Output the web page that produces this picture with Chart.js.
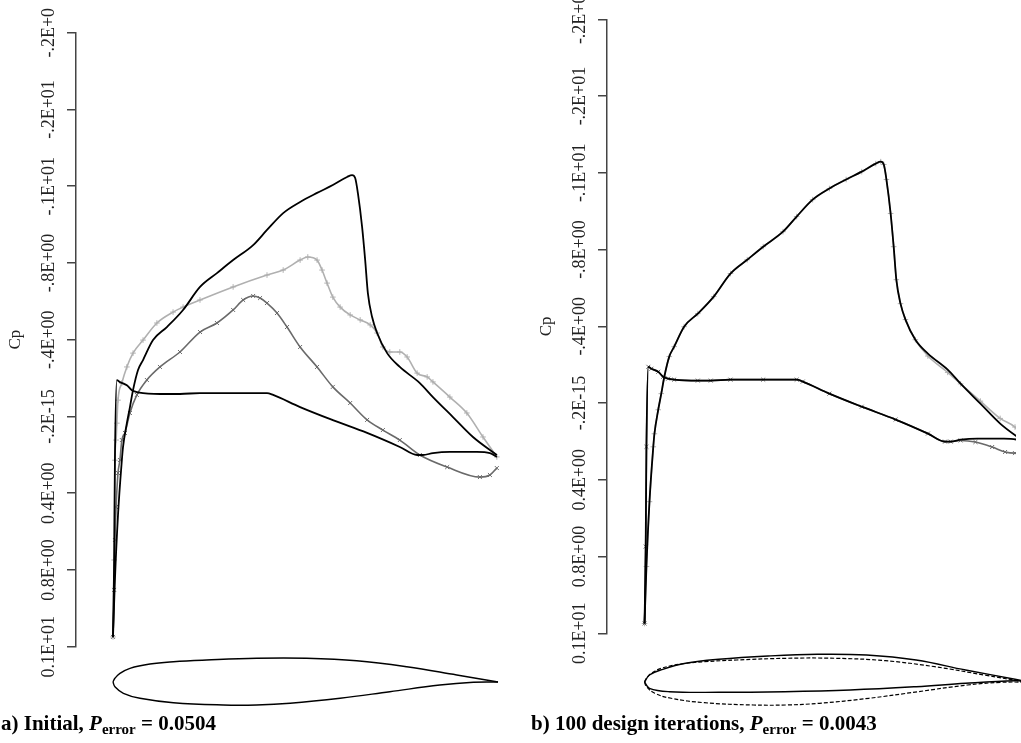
<!DOCTYPE html>
<html>
<head>
<meta charset="utf-8">
<title>Cp distributions</title>
<script src="https://cdn.jsdelivr.net/npm/chart.js@4.4.1/dist/chart.umd.min.js"></script>
<style>
  html, body { margin: 0; padding: 0; background: #fff; }
  body { width: 1021px; height: 743px; position: relative; overflow: hidden; font-family: "Liberation Serif", "Times New Roman", serif; }
  canvas { position: absolute; top: 0; }
  #chartA { left: 0; }
  #chartB { left: 531px; }
  .caption { position: absolute; top: 711px; font-weight: bold; font-size: 21px; white-space: nowrap; color: #000; }
  .caption sub { font-size: 15px; vertical-align: -4px; line-height: 0; }
</style>
</head>
<body>
<canvas id="chartA" width="515" height="743"></canvas>
<canvas id="chartB" width="490" height="743"></canvas>
<div class="caption" style="left:1px">a) Initial, <i>P</i><sub>error</sub> = 0.0504</div>
<div class="caption" style="left:531px">b) 100 design iterations, <i>P</i><sub>error</sub> = 0.0043</div>
<script>
// Cp axis (reversed, negative up)
const yTickValues = [-2.0, -1.6, -1.2, -0.8, -0.4, 0, 0.4, 0.8, 1.2];
const yTickLabels = ["-.2E+0", "-.2E+01", "-.1E+01", "-.8E+00", "-.4E+00", "-.2E-15", "0.4E+00", "0.8E+00", "0.1E+01"];

// target Cp (solid line, same in both panels)
const targetUpperX  = [0, 0.005, 0.013, 0.023, 0.026, 0.036, 0.044, 0.052, 0.065, 0.078, 0.104, 0.140, 0.182, 0.226, 0.270, 0.312, 0.364, 0.400, 0.442, 0.486, 0.530, 0.571, 0.608, 0.621, 0.629, 0.636, 0.647, 0.655, 0.662, 0.673, 0.686, 0.712, 0.745, 0.797, 0.831, 0.883, 0.935, 0.997];
const targetUpperCp = [1.149, 0.852, 0.514, 0.228, 0.160, 0.035, -0.049, -0.137, -0.242, -0.294, -0.398, -0.466, -0.555, -0.675, -0.747, -0.815, -0.893, -0.972, -1.060, -1.118, -1.165, -1.206, -1.248, -1.258, -1.243, -1.165, -0.988, -0.815, -0.643, -0.518, -0.435, -0.330, -0.258, -0.174, -0.101, 0.003, 0.107, 0.201];
const targetLowerX  = [0, 0.003, 0.005, 0.010, 0.018, 0.036, 0.049, 0.062, 0.078, 0.140, 0.174, 0.226, 0.312, 0.400, 0.416, 0.486, 0.571, 0.660, 0.745, 0.790, 0.805, 0.831, 0.875, 0.945, 0.979, 0.997];
const targetLowerCp = [1.149, 0.748, 0.228, -0.189, -0.179, -0.163, -0.137, -0.127, -0.122, -0.117, -0.117, -0.122, -0.122, -0.122, -0.112, -0.049, 0.019, 0.086, 0.159, 0.201, 0.201, 0.191, 0.185, 0.185, 0.191, 0.211];

// initial airfoil Cp (markers, panel a)
const initUpperX  = [0, 0.003, 0.005, 0.008, 0.010, 0.013, 0.023, 0.036, 0.052, 0.078, 0.114, 0.156, 0.182, 0.226, 0.312, 0.400, 0.442, 0.486, 0.506, 0.530, 0.543, 0.556, 0.571, 0.590, 0.616, 0.642, 0.668, 0.686, 0.701, 0.719, 0.745, 0.764, 0.790, 0.816, 0.831, 0.875, 0.919, 0.961, 0.997];
const initUpperCp = [1.149, 0.748, 0.228, 0.123, 0.035, -0.085, -0.174, -0.258, -0.330, -0.398, -0.487, -0.544, -0.570, -0.607, -0.675, -0.737, -0.763, -0.815, -0.831, -0.815, -0.763, -0.695, -0.622, -0.570, -0.529, -0.503, -0.477, -0.435, -0.362, -0.336, -0.336, -0.310, -0.226, -0.206, -0.180, -0.101, -0.018, 0.107, 0.211];
const initLowerX  = [0, 0.003, 0.005, 0.008, 0.013, 0.018, 0.023, 0.031, 0.044, 0.062, 0.088, 0.122, 0.174, 0.226, 0.270, 0.312, 0.338, 0.364, 0.382, 0.400, 0.426, 0.452, 0.486, 0.530, 0.571, 0.616, 0.660, 0.701, 0.745, 0.797, 0.868, 0.953, 0.979, 0.997];
const initLowerCp = [1.149, 0.904, 0.644, 0.472, 0.295, 0.227, 0.123, 0.086, -0.018, -0.112, -0.190, -0.258, -0.336, -0.440, -0.487, -0.555, -0.607, -0.628, -0.617, -0.591, -0.539, -0.466, -0.362, -0.258, -0.154, -0.070, 0.018, 0.071, 0.123, 0.201, 0.264, 0.316, 0.305, 0.269];

// designed airfoil Cp after 100 iterations (markers, panel b)
const designUpperX  = [0, 0.005, 0.013, 0.023, 0.026, 0.036, 0.044, 0.052, 0.065, 0.078, 0.104, 0.140, 0.182, 0.226, 0.270, 0.312, 0.364, 0.400, 0.442, 0.486, 0.530, 0.571, 0.608, 0.621, 0.629, 0.636, 0.647, 0.655, 0.662, 0.673, 0.686, 0.712, 0.745, 0.797, 0.831, 0.883, 0.935, 0.974, 0.997];
const designUpperCp = [1.149, 0.852, 0.514, 0.228, 0.160, 0.035, -0.049, -0.137, -0.242, -0.294, -0.398, -0.466, -0.555, -0.675, -0.747, -0.815, -0.893, -0.972, -1.060, -1.118, -1.165, -1.206, -1.248, -1.258, -1.243, -1.165, -0.988, -0.815, -0.643, -0.518, -0.435, -0.330, -0.245, -0.160, -0.100, -0.010, 0.080, 0.125, 0.180];
const designLowerX  = [0, 0.003, 0.005, 0.010, 0.018, 0.036, 0.049, 0.062, 0.078, 0.140, 0.174, 0.226, 0.312, 0.400, 0.416, 0.486, 0.571, 0.660, 0.745, 0.790, 0.805, 0.831, 0.870, 0.914, 0.948, 0.974, 0.997];
const designLowerCp = [1.149, 0.748, 0.228, -0.189, -0.179, -0.163, -0.137, -0.127, -0.122, -0.117, -0.117, -0.122, -0.122, -0.122, -0.112, -0.049, 0.019, 0.086, 0.159, 0.201, 0.201, 0.195, 0.203, 0.229, 0.255, 0.261, 0.250];

// airfoil shapes (y/c)
const initFoilUpperX = [0, 0.005, 0.018, 0.044, 0.096, 0.157, 0.243, 0.373, 0.503, 0.633, 0.763, 0.893, 1.0];
const initFoilUpperY = [0, 0.0096, 0.0226, 0.0356, 0.0468, 0.0527, 0.0571, 0.0616, 0.0616, 0.0553, 0.0397, 0.0182, 0];
const initFoilLowerX = [0, 0.005, 0.027, 0.070, 0.157, 0.286, 0.373, 0.460, 0.590, 0.719, 0.849, 0.936, 1.0];
const initFoilLowerY = [0, -0.0122, -0.0294, -0.0423, -0.0538, -0.0597, -0.0597, -0.0553, -0.0423, -0.0252, -0.0078, -0.0008, 0];
const designFoilUpperX = [0, 0.013, 0.048, 0.108, 0.195, 0.325, 0.455, 0.584, 0.714, 0.844, 0.974, 1.0];
const designFoilUpperY = [0, 0.0182, 0.033, 0.0486, 0.059, 0.0675, 0.072, 0.070, 0.0571, 0.0312, 0.007, 0.002];
const designFoilLowerX = [0, 0.013, 0.065, 0.195, 0.368, 0.541, 0.714, 0.844, 0.974, 1.0];
const designFoilLowerY = [0, -0.0164, -0.0252, -0.0268, -0.0252, -0.0208, -0.0122, -0.0034, 0.0034, 0.002];

const FONT = "'Liberation Serif', 'Times New Roman', serif";
const TICK_FONT_SIZE = 18;
const TICK_LEN = 9;
const LABEL_CENTER_X = 49;   // centre of rotated tick labels, measured from panel left
const CHORD_PX = 385;
const CANVAS_H = 743;

function pts(xs, ys) {
  return xs.map((x, i) => ({ x: x, y: ys[i] }));
}

function solidLine(xs, ys) {
  return { data: pts(xs, ys), showLine: true, borderColor: "#000", borderWidth: 1.8,
    pointRadius: 0, cubicInterpolationMode: "monotone", yAxisID: "y" };
}

function markerLine(xs, ys, color, style) {
  return { data: pts(xs, ys), showLine: true, borderColor: color, borderWidth: 1.6,
    pointStyle: style, pointRadius: 2.8, pointBorderColor: color, pointBorderWidth: 1,
    pointBackgroundColor: color, cubicInterpolationMode: "monotone", yAxisID: "y" };
}

function foilLine(xs, ys, dashed) {
  return { data: pts(xs, ys), showLine: true, borderColor: "#000", borderWidth: dashed ? 1.2 : 1.4,
    borderDash: dashed ? [4, 2] : [], pointRadius: 0, tension: 0.4, yAxisID: "yf", clip: false };
}

// widest tick label, so the rotated labels can be centred on a fixed x
const measureCtx = document.createElement("canvas").getContext("2d");
measureCtx.font = TICK_FONT_SIZE + "px " + FONT;
const widestLabel = Math.max(...yTickLabels.map(t => measureCtx.measureText(t).width));

function makePanel(id, lay, datasets) {
  const canvas = document.getElementById(id);
  const plotH = lay.plotBottom - lay.plotTop;
  const foilMin = (lay.foilY - lay.plotBottom) / CHORD_PX;
  new Chart(canvas.getContext("2d"), {
    type: "scatter",
    data: { datasets: datasets },
    options: {
      responsive: false,
      animation: false,
      events: [],
      layout: { padding: { left: 0, top: lay.plotTop, bottom: CANVAS_H - lay.plotBottom, right: lay.width - lay.plotRight } },
      plugins: { legend: { display: false }, tooltip: { enabled: false } },
      scales: {
        x: { type: "linear", display: false,
          min: (lay.axisX - lay.chord0) / CHORD_PX, max: (lay.plotRight - lay.chord0) / CHORD_PX },
        y: {
          type: "linear", position: "left", reverse: true, min: -2.0, max: 1.2,
          afterFit: (s) => { s.width = lay.axisX; },
          afterBuildTicks: (s) => { s.ticks = yTickValues.map(v => ({ value: v })); },
          border: { display: true, color: "#444", width: 1.5 },
          grid: { drawOnChartArea: false, drawTicks: true, tickLength: TICK_LEN, color: "#444", lineWidth: 1.5 },
          ticks: {
            autoSkip: false, minRotation: 90, maxRotation: 90, crossAlign: "center",
            padding: (lay.axisX - TICK_LEN - LABEL_CENTER_X) - widestLabel / 2,
            color: "#222", font: { family: FONT, size: TICK_FONT_SIZE },
            callback: (v, i) => yTickLabels[i]
          },
          title: { display: true, text: "Cp", color: "#222", font: { family: FONT, size: 17 }, padding: { top: 5, bottom: 0 } }
        },
        yf: { type: "linear", display: false, min: foilMin, max: foilMin + plotH / CHORD_PX }
      }
    }
  });
}

makePanel("chartA",
  { width: 515, axisX: 76, chord0: 113, plotTop: 32.7, plotBottom: 646.7, plotRight: 510, foilY: 682 },
  [
    solidLine(targetUpperX, targetUpperCp),
    solidLine(targetLowerX, targetLowerCp),
    markerLine(initLowerX, initLowerCp, "#6a6a6a", "crossRot"),
    markerLine(initUpperX, initUpperCp, "#b0b0b0", "cross"),
    foilLine(initFoilUpperX, initFoilUpperY, false),
    foilLine(initFoilLowerX, initFoilLowerY, false)
  ]);

makePanel("chartB",
  { width: 490, axisX: 76, chord0: 114, plotTop: 19.3, plotBottom: 633.3, plotRight: 490, foilY: 682 },
  [
    solidLine(targetUpperX, targetUpperCp),
    solidLine(targetLowerX, targetLowerCp),
    markerLine(designLowerX, designLowerCp, "#6a6a6a", "crossRot"),
    markerLine(designUpperX, designUpperCp, "#b0b0b0", "cross"),
    foilLine(designFoilUpperX, designFoilUpperY, false),
    foilLine(designFoilLowerX, designFoilLowerY, false),
    foilLine(initFoilUpperX, initFoilUpperY, true),
    foilLine(initFoilLowerX, initFoilLowerY, true)
  ]);
</script>
</body>
</html>
